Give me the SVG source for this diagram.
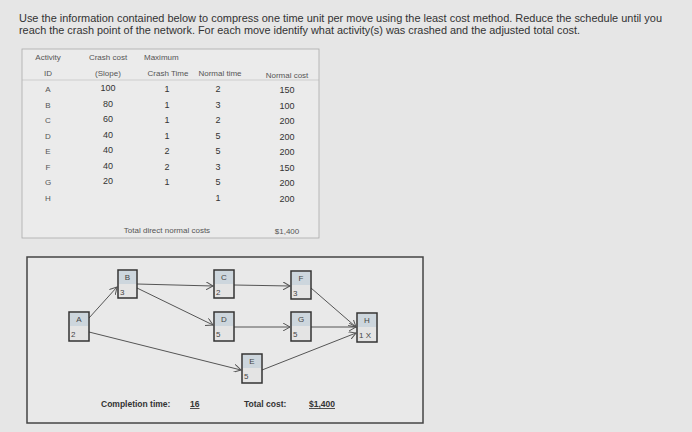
<svg xmlns="http://www.w3.org/2000/svg" width="692" height="432" viewBox="0 0 692 432">
<style>
text{font-family:"Liberation Sans",Arial,sans-serif;fill:#333}
.t{font-size:8px;fill:#555}
.c{text-anchor:middle}
.n rect{fill:#e4e4e4;stroke:#333;stroke-width:1.5}
.n .h{fill:#cdd6dd;stroke:none}
.n text{font-size:8px;fill:#444}
.e{stroke:#555;stroke-width:1;fill:none;marker-end:url(#ar)}
</style>
<defs><marker id="ar" markerWidth="8" markerHeight="8" refX="7" refY="4" orient="auto" markerUnits="userSpaceOnUse"><path d="M0,0 L7,4 L0,8" fill="none" stroke="#555"/></marker></defs>
<rect width="692" height="432" fill="#e6e6e6"/>
<text x="19" y="22" font-size="10" textLength="643" lengthAdjust="spacingAndGlyphs">Use the information contained below to compress one time unit per move using the least cost method. Reduce the schedule until you</text>
<text x="19" y="34" font-size="10" textLength="561" lengthAdjust="spacingAndGlyphs">reach the crash point of the network. For each move identify what activity(s) was crashed and the adjusted total cost.</text>
<g id="table">
<rect x="22" y="49" width="297" height="189" fill="#ebebeb" stroke="#aaa" stroke-width="0.8"/>
<line x1="22" y1="80" x2="319" y2="80" stroke="#bbb" stroke-width="0.6"/>
<text class="t c" x="48" y="60">Activity</text><text class="t c" x="108" y="60">Crash cost</text><text class="t" x="144" y="60">Maximum</text>
<text class="t c" x="48" y="76">ID</text><text class="t c" x="108" y="76">(Slope)</text><text class="t c" x="168" y="76">Crash Time</text><text class="t c" x="220" y="76">Normal time</text><text class="t c" x="287" y="78">Normal cost</text>
<g font-size="9">
<text class="t c" x="48" y="92">A</text><text class="c" x="108" y="91" font-size="9">100</text><text class="c" x="167" y="92" font-size="9">1</text><text class="c" x="218" y="92" font-size="9">2</text><text class="c" x="287" y="93" font-size="9">150</text>
<text class="t c" x="48" y="108">B</text><text class="c" x="108" y="107" font-size="9">80</text><text class="c" x="167" y="108" font-size="9">1</text><text class="c" x="218" y="108" font-size="9">3</text><text class="c" x="287" y="109" font-size="9">100</text>
<text class="t c" x="48" y="123">C</text><text class="c" x="108" y="122" font-size="9">60</text><text class="c" x="167" y="123" font-size="9">1</text><text class="c" x="218" y="123" font-size="9">2</text><text class="c" x="287" y="124" font-size="9">200</text>
<text class="t c" x="48" y="139">D</text><text class="c" x="108" y="138" font-size="9">40</text><text class="c" x="167" y="139" font-size="9">1</text><text class="c" x="218" y="139" font-size="9">5</text><text class="c" x="287" y="140" font-size="9">200</text>
<text class="t c" x="48" y="154">E</text><text class="c" x="108" y="153" font-size="9">40</text><text class="c" x="167" y="154" font-size="9">2</text><text class="c" x="218" y="154" font-size="9">5</text><text class="c" x="287" y="155" font-size="9">200</text>
<text class="t c" x="48" y="170">F</text><text class="c" x="108" y="169" font-size="9">40</text><text class="c" x="167" y="170" font-size="9">2</text><text class="c" x="218" y="170" font-size="9">3</text><text class="c" x="287" y="171" font-size="9">150</text>
<text class="t c" x="48" y="185">G</text><text class="c" x="108" y="184" font-size="9">20</text><text class="c" x="167" y="185" font-size="9">1</text><text class="c" x="218" y="185" font-size="9">5</text><text class="c" x="287" y="186" font-size="9">200</text>
<text class="t c" x="48" y="201">H</text><text class="c" x="218" y="201" font-size="9">1</text><text class="c" x="287" y="202" font-size="9">200</text>
</g>
<text class="t c" x="167" y="233">Total direct normal costs</text><text class="t c" x="287" y="234">$1,400</text>
</g>
<rect x="27" y="257" width="396" height="166" fill="#e9e9e9" stroke="#444" stroke-width="1.5"/>
<g id="connectors">
<line class="e" x1="89" y1="318" x2="117" y2="287"/>
<line class="e" x1="137" y1="284" x2="213" y2="286"/>
<line class="e" x1="137" y1="288" x2="213" y2="325"/>
<line class="e" x1="234" y1="285" x2="290" y2="286"/>
<line class="e" x1="234" y1="327" x2="290" y2="327"/>
<line class="e" x1="89" y1="332" x2="241" y2="370"/>
<line class="e" x1="311" y1="288" x2="356" y2="327"/>
<line class="e" x1="311" y1="327" x2="356" y2="327"/>
<line class="e" x1="262" y1="370" x2="356" y2="333"/>
</g>
<g id="A" class="n"><rect x="69" y="312" width="20" height="29"/><rect class="h" x="70" y="313" width="18" height="13"/><text x="79" y="322" text-anchor="middle">A</text><text x="71" y="337">2</text></g>
<g id="B" class="n"><rect x="118" y="270" width="19" height="28"/><rect class="h" x="119" y="271" width="17" height="13"/><text x="127.5" y="280" text-anchor="middle">B</text><text x="120" y="295">3</text></g>
<g id="C" class="n"><rect x="214" y="270" width="20" height="28"/><rect class="h" x="215" y="271" width="18" height="13"/><text x="224" y="280" text-anchor="middle">C</text><text x="216" y="295">2</text></g>
<g id="F" class="n"><rect x="291" y="271" width="20" height="28"/><rect class="h" x="292" y="272" width="18" height="13"/><text x="301" y="281" text-anchor="middle">F</text><text x="293" y="296">3</text></g>
<g id="D" class="n"><rect x="214" y="312" width="20" height="29"/><rect class="h" x="215" y="313" width="18" height="13"/><text x="224" y="322" text-anchor="middle">D</text><text x="216" y="337">5</text></g>
<g id="G" class="n"><rect x="291" y="312" width="20" height="29"/><rect class="h" x="292" y="313" width="18" height="13"/><text x="301" y="322" text-anchor="middle">G</text><text x="293" y="337">5</text></g>
<g id="H" class="n"><rect x="357" y="313" width="20" height="29"/><rect class="h" x="358" y="314" width="18" height="13"/><text x="367" y="323" text-anchor="middle">H</text><text x="359" y="338">1 X</text></g>
<g id="E" class="n"><rect x="242" y="354" width="20" height="29"/><rect class="h" x="243" y="355" width="18" height="13"/><text x="252" y="364" text-anchor="middle">E</text><text x="244" y="379">5</text></g>
<text x="101" y="407" font-size="8.5" font-weight="bold">Completion time:</text>
<text x="190" y="407" font-size="8.5" font-weight="bold" text-decoration="underline">16</text>
<text x="244" y="407" font-size="8.5" font-weight="bold">Total cost:</text>
<text x="309" y="407" font-size="8.5" font-weight="bold" text-decoration="underline">$1,400</text>
</svg>
